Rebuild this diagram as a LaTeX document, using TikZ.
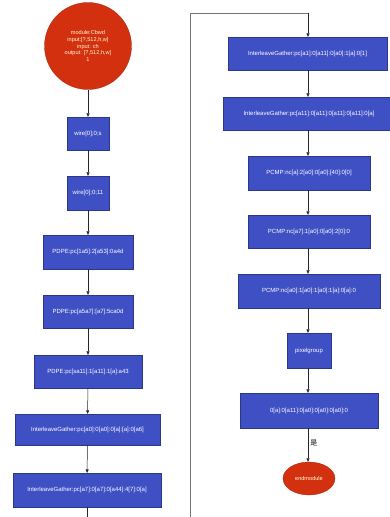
\documentclass[tikz,border=0pt]{standalone}
\usepackage{fontspec}
\setmainfont{Liberation Sans}
\newfontfamily\cjk{Noto Sans CJK SC}
\usetikzlibrary{arrows.meta,shapes.geometric}
\definecolor{boxblue}{HTML}{3F4FC4}
\definecolor{termred}{HTML}{D2300E}
\begin{document}
\begin{tikzpicture}[x=1pt,y=-1pt,
  stepbox/.style={rectangle,fill=boxblue,draw=boxblue!70!black,line width=0.3pt,text=white,
    font=\fontsize{6}{7}\selectfont,inner sep=1pt,align=center},
  termnode/.style={fill=termred,draw=termred!80!black,line width=0.3pt,text=white!85!yellow,
    font=\fontsize{5.6}{6.6}\selectfont,inner sep=0pt,align=center},
  flow/.style={draw=black!85,line width=0.5pt,-{Triangle[length=3.5pt,width=3pt]}},
  plain/.style={draw=black!55,line width=0.8pt}]
\useasboundingbox (0,0) rectangle (390,517);
\fill[white] (0,0) rectangle (390,517);
\clip (0,0) rectangle (390,517);
% left column
\node[termnode,circle,minimum size=87pt] (c0) at (88,46) {module:Cbwd\\input:[?,512,h,w]\\input: ch\\output: [?,512,h,w]\\1};
\node[stepbox,minimum width=42pt,minimum height=33pt] (b1) at (88,133.5) {wire[0];0;s};
\node[stepbox,minimum width=42pt,minimum height=34pt] (b2) at (88,193) {wire[0];0;11};
\node[stepbox,minimum width=90pt,minimum height=34pt] (b3) at (88,252) {PDPE:pc[1a5]:2[a53]:0a4d};
\node[stepbox,minimum width=90pt,minimum height=33pt] (b4) at (88,311.5) {PDPE:pc[a5a7]:[a7]:5ca0d};
\node[stepbox,minimum width=108pt,minimum height=33pt] (b5) at (88,371.5) {PDPE:pc[sa11]:1[a11]:1[a]:a43};
\node[stepbox,minimum width=145pt,minimum height=31pt] (b6) at (87.5,429.5) {InterleaveGather:pc[a0]:0[a0]:0[a]:[a]:0[a6]};
\node[stepbox,minimum width=148pt,minimum height=34pt] (b7) at (87,490) {InterleaveGather:pc[a7]:0[a7]:0[a44]:4[7]:0[a]};
\coordinate (lb) at (87,520);
% right column
\node[stepbox,minimum width=159pt,minimum height=33pt] (r1) at (307.5,53.5) {InterleaveGather:pc[a1]:0[a11]:0[a0]:1[a]:0[1]};
\node[stepbox,minimum width=172pt,minimum height=33pt] (r2) at (309,113.5) {InterleaveGather:pc[a11]:0[a11]:0[a11]:0[a11]:0[a]};
\node[stepbox,minimum width=122pt,minimum height=34pt] (r3) at (309,173) {PCMP:nc[a]:2[a0]:0[a0]:[40]:0[0]};
\node[stepbox,minimum width=122pt,minimum height=33pt] (r4) at (309,231.5) {PCMP:nc[a7]:1[a0]:0[a0]:2[0]:0};
\node[stepbox,minimum width=142pt,minimum height=34pt] (r5) at (309,291) {PCMP:nc[a0]:1[a0]:1[a0]:1[a]:0[a]:0};
\node[stepbox,minimum width=44pt,minimum height=35pt] (r6) at (309,350.5) {pixelgroup};
\node[stepbox,minimum width=138pt,minimum height=35pt] (r7) at (309,410.5) {0[a]:0[a11]:0[a0]:0[a0]:0[a0]:0};
\node[termnode,ellipse,minimum width=52pt,minimum height=33pt] (e) at (309,478.5) {endmodule};
\coordinate (rb) at (190,520);
\coordinate (rt) at (190,13);
\coordinate (rtt) at (308,13);
% connectors
\draw[flow] (c0) -- (b1);
\draw[flow] (b1) -- (b2);
\draw[flow] (b2) -- (b3);
\draw[flow] (b3) -- (b4);
\draw[flow] (b4) -- (b5);
\draw[flow] (b5) -- (b6);
\draw[flow] (b6) -- (b7);
\draw[draw=black!85,line width=0.5pt] (b7) -- (lb);
\draw[plain] (rb) -- (rt) -- (rtt);
\draw[flow] (rtt) -- (r1.north -| rtt);
\draw[flow] (r1.south -| rtt) -- (r2.north -| rtt);
\draw[flow] (r2.south -| rtt) -- (r3.north -| rtt);
\draw[flow] (r3.south -| rtt) -- (r4.north -| rtt);
\draw[flow] (r4.south -| rtt) -- (r5.north -| rtt);
\draw[flow] (r5.south -| rtt) -- (r6.north -| rtt);
\draw[flow] (r6.south -| rtt) -- (r7.north -| rtt);
\draw[flow] (r7.south -| rtt) -- node[right,pos=0.45,font=\cjk\fontsize{7}{7}\selectfont,inner sep=2pt] {是} (e.north -| rtt);
\end{tikzpicture}
\end{document}
